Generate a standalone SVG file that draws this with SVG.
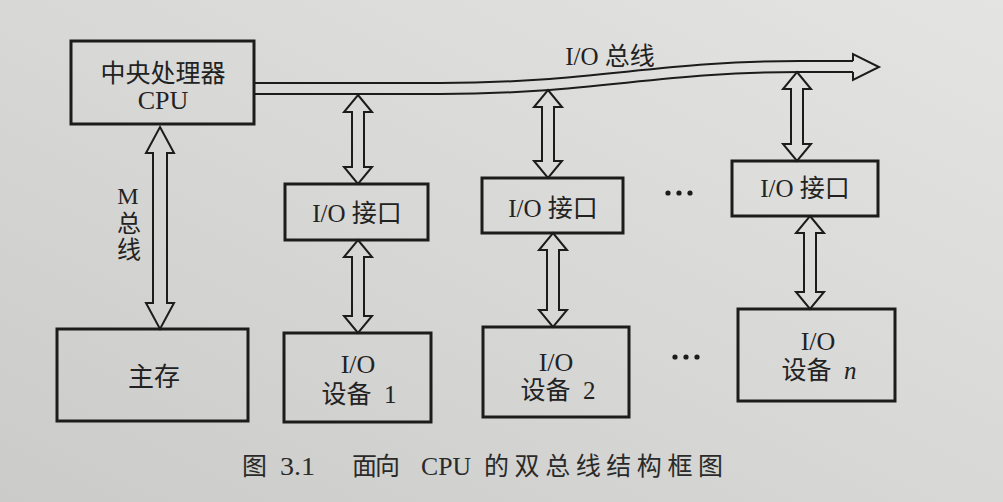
<svg xmlns="http://www.w3.org/2000/svg" width="1003" height="502" viewBox="0 0 1003 502">
<defs>
<linearGradient id="paper" x1="1" y1="0" x2="0" y2="1">
<stop offset="0" stop-color="#e4e4e2"/>
<stop offset="0.5" stop-color="#d8d8d6"/>
<stop offset="1" stop-color="#cbcbc9"/>
</linearGradient>
<path id="busline" d="M253,88.5 L440,88.5 C590,88.5 660,66.5 800,66.5 L853,66.5"/>
<style>
.box{fill:none;stroke:#1c1c1c;stroke-width:3}
.arr{fill:none;stroke:#1c1c1c;stroke-width:2;stroke-linejoin:miter}
.bus{fill:none;stroke:#1c1c1c;stroke-width:2}
.t{font-family:"Liberation Serif","Noto Sans CJK SC",serif;fill:#222;text-anchor:middle}
.s24{font-size:24px}
.s25{font-size:25px}
.s26{font-size:26px}
.s22{font-size:22px}
.cap{font-family:"Liberation Serif","Noto Sans CJK SC",serif;fill:#2a2a2a;font-size:25px}
</style>
</defs>
<rect x="0" y="0" width="1003" height="502" fill="url(#paper)"/>

<g id="connectors">
<g id="io-bus">
<use href="#busline" class="bus" transform="translate(0,-5.5)"/>
<use href="#busline" class="bus" transform="translate(0,5.5)"/>
<polyline class="bus" points="853,61 853,54 879,67 853,80 853,72"/>
</g>
<polygon id="m-bus" class="arr" points="160,127 174,153 167,153 167,303 174,303 160,329 146,303 153,303 153,153 146,153"/>
<polygon id="bus-if1" class="arr" points="358,95 372,112 364,112 364,167 372,167 358,184 344,167 352,167 352,112 344,112"/>
<polygon id="if1-dev1" class="arr" points="358,240 372,257 364,257 364,316 372,316 358,333 344,316 352,316 352,257 344,257"/>
<polygon id="bus-if2" class="arr" points="548,90 562,107 554,107 554,161 562,161 548,178 534,161 542,161 542,107 534,107"/>
<polygon id="if2-dev2" class="arr" points="553,233 567,250 559,250 559,310 567,310 553,327 539,310 547,310 547,250 539,250"/>
<polygon id="bus-ifn" class="arr" points="797,72 811,89 803,89 803,144 811,144 797,161 783,144 791,144 791,89 783,89"/>
<polygon id="ifn-devn" class="arr" points="810,216 824,233 816,233 816,292 824,292 810,309 796,292 804,292 804,233 796,233"/>
<text class="t s25" x="610" y="65">I/O 总线</text>
<g id="m-bus-label" class="t s24">
<text x="128" y="204">M</text>
<text x="129" y="232">总</text>
<text x="129" y="258">线</text>
</g>
</g>

<g id="cpu">
<rect class="box" x="71" y="41" width="183" height="83"/>
<text class="t s25" x="163" y="82">中央处理器</text>
<text class="t s26" x="163" y="109">CPU</text>
</g>
<g id="main-memory">
<rect class="box" x="57" y="329" width="191" height="92"/>
<text class="t s26" x="154" y="386">主存</text>
</g>
<g id="io-interface-1">
<rect class="box" x="285" y="184" width="143" height="56"/>
<text class="t s25" x="357" y="222">I/O 接口</text>
</g>
<g id="io-device-1">
<rect class="box" x="284" y="333" width="147" height="89"/>
<text class="t s26" x="358" y="373">I/O</text>
<text class="t s25" x="359" y="403">设备 <tspan dx="6">1</tspan></text>
</g>
<g id="io-interface-2">
<rect class="box" x="482" y="178" width="141" height="55"/>
<text class="t s25" x="553" y="217">I/O 接口</text>
</g>
<g id="io-device-2">
<rect class="box" x="483" y="327" width="146" height="90"/>
<text class="t s26" x="556" y="371">I/O</text>
<text class="t s25" x="558" y="399">设备 <tspan dx="6">2</tspan></text>
</g>
<g id="io-interface-n">
<rect class="box" x="732" y="161" width="146" height="55"/>
<text class="t s25" x="805" y="197">I/O 接口</text>
</g>
<g id="io-device-n">
<rect class="box" x="738" y="309" width="157" height="92"/>
<text class="t s26" x="818" y="350">I/O</text>
<text class="t s25" x="819" y="379">设备 <tspan dx="6" font-style="italic">n</tspan></text>
</g>
<g id="ellipses" fill="#1c1c1c">
<circle cx="668" cy="193" r="2.6"/><circle cx="679" cy="193" r="2.6"/><circle cx="690" cy="193" r="2.6"/>
<circle cx="675" cy="357" r="2.6"/><circle cx="686" cy="357" r="2.6"/><circle cx="697" cy="357" r="2.6"/>
</g>
<g id="caption" class="cap">
<text x="242" y="475">图</text>
<text x="280" y="475" textLength="35" lengthAdjust="spacingAndGlyphs">3.1</text>
<text x="352" y="475" textLength="48" lengthAdjust="spacing">面向</text>
<text x="421" y="475" textLength="50" lengthAdjust="spacingAndGlyphs">CPU</text>
<text x="484" y="475" textLength="239" lengthAdjust="spacing">的双总线结构框图</text>
</g>
</svg>
